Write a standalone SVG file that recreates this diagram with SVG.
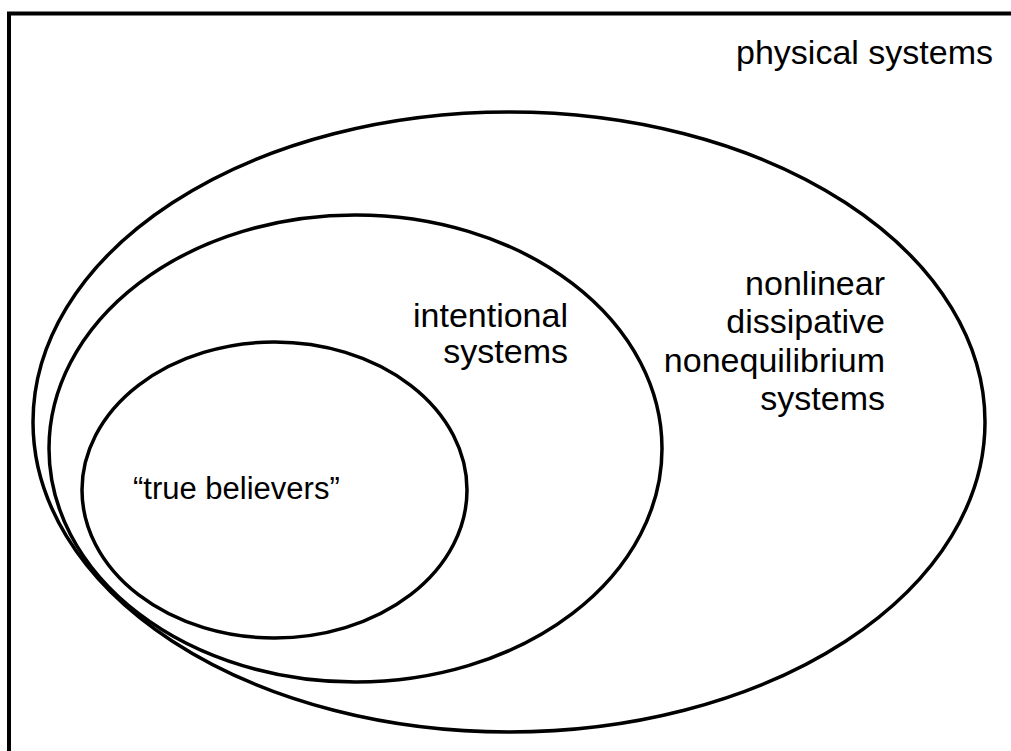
<svg xmlns="http://www.w3.org/2000/svg" width="1011" height="751" viewBox="0 0 1011 751">
<style>
.e{fill:none;stroke:#000;stroke-width:3.5}
.t{font-family:"Liberation Sans",Arial,sans-serif;font-size:34px;fill:#000}
</style>
<rect width="1011" height="751" fill="#fff"/>
<g id="frame"><path d="M9,751 V13.5 H1011" fill="none" stroke="#000" stroke-width="4"/></g>
<g id="physical">
<text class="t" x="993" y="64" text-anchor="end">physical systems</text>
</g>
<g id="nonlinear">
<ellipse class="e" cx="509" cy="422" rx="476" ry="310"/>
<text class="t" text-anchor="end"><tspan x="885" y="295">nonlinear</tspan><tspan x="885" y="333">dissipative</tspan><tspan x="885" y="372">nonequilibrium</tspan><tspan x="885" y="410">systems</tspan></text>
</g>
<g id="intentional">
<ellipse class="e" cx="355.5" cy="448.5" rx="306.5" ry="233.5"/>
<text class="t" text-anchor="end"><tspan x="568" y="327">intentional</tspan><tspan x="568" y="363">systems</tspan></text>
</g>
<g id="believers">
<ellipse class="e" cx="274.5" cy="490" rx="192.5" ry="148"/>
<text class="t" x="133" y="499" style="font-size:31px">“true believers”</text>
</g>
<g id="connectors"/>
</svg>
